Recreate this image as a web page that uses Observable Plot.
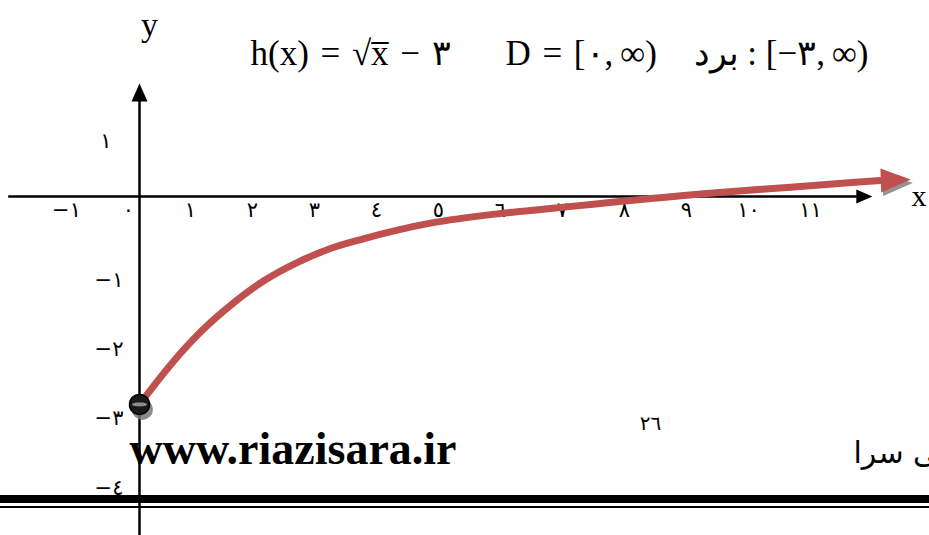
<!DOCTYPE html>
<html><head><meta charset="utf-8">
<script src="https://cdn.jsdelivr.net/npm/d3@7"></script>
<script src="https://cdn.jsdelivr.net/npm/@observablehq/plot@0.6"></script>
<style>
body{margin:0;background:#fff;}
#wrap{position:relative;width:929px;height:535px;overflow:hidden;background:#fff;}
#wrap svg{position:absolute;left:0;top:0;}
.rule{position:absolute;left:0;width:929px;background:#000;}
</style></head><body>
<div id="wrap"></div>
<script>
// ---- data ----
const xTickValues = [-1, 0, 1, 2, 3, 4, 5, 6, 7, 8, 9, 10, 11];
const xTickLabels = ["−١", "٠", "١", "٢", "٣", "٤", "٥", "٦", "٧", "٨", "٩", "١٠", "١١"];
const yPosTickValues = [1];
const yPosTickLabels = ["١"];
const yNegTickValues = [-1, -2, -3, -4];
const yNegTickLabels = ["−١", "−٢", "−٣", "−٤"];
// curve h(x) = √x − 3 as drawn in the picture
const curveX = [0, 0.50, 0.98, 1.47, 2.00, 2.55, 3.08, 3.61, 4.16, 4.69, 5.82, 6.63, 7.44, 9.05, 10.50, 11.95];
const curveY = [-3, -2.43, -1.96, -1.57, -1.22, -0.95, -0.75, -0.61, -0.485, -0.385, -0.245, -0.173, -0.10, 0.036, 0.134, 0.231];
const curveTipX = [12.44];
const curveTipY = [0.245];
const startX = [0];
const startY = [-3];
const xAxisExtent = [-2.11, 11.58, 11.82]; // start, arrow base, arrow tip
const yAxisExtent = [-4.9, 1.385, 1.63];
const titleParts = ["h(x)\u2004=\u2004√x\u0305\u2004−\u2004٣", "D\u2004=\u2004[٠,\u2009∞)", "برد\u200E : [−٣,\u2009∞)"];
const axisNames = ["x", "y"];
const pageNumber = ["٢٦"];
const siteUrl = ["www.riazisara.ir"];
const siteName = ["ریاضی سرا"];

// ---- scales ----
const W = 929, H = 535;
const ox = 139, pxX = 62, oy = 196, pxY = 69.3;
const xDomain = [-ox / pxX, (W - ox) / pxX];
const yDomain = [-(H - oy) / pxY, oy / pxY];

function arrowHead(len, half, angle) {
  const c = Math.cos(angle), s = Math.sin(angle);
  const pt = (u, v) => [u * c - v * s, u * s + v * c];
  return {draw(ctx) {
    const a = pt(0, 0), b = pt(-len, -half), d = pt(-len, half);
    ctx.moveTo(a[0], a[1]); ctx.lineTo(b[0], b[1]); ctx.lineTo(d[0], d[1]); ctx.closePath();
  }};
}
// flat ellipse used as the highlight band of the start ball
const bandSymbol = {draw(ctx) {
  const k = 28;
  for (let i = 0; i <= k; ++i) {
    const t = (i / k) * 2 * Math.PI, px = 7.5 * Math.cos(t), py = 2 * Math.sin(t);
    if (i === 0) ctx.moveTo(px, py); else ctx.lineTo(px, py);
  }
  ctx.closePath();
}};
const n = curveX.length;
const tipAngle = Math.atan2(-(curveTipY[0] - curveY[n - 1]) * pxY, (curveTipX[0] - curveX[n - 1]) * pxX);

const curve = curveX.map((x, i) => ({x, y: curveY[i]}));
const tip = curveTipX.map((x, i) => ({x, y: curveTipY[i]}));
const start = startX.map((x, i) => ({x, y: startY[i]}));
const xt = xTickValues.map((v, i) => ({v, t: xTickLabels[i]}));
const ytp = yPosTickValues.map((v, i) => ({v, t: yPosTickLabels[i]}));
const ytn = yNegTickValues.map((v, i) => ({v, t: yNegTickLabels[i]}));

const serif = "'Liberation Serif', 'DejaVu Serif', serif";
const sans = "'DejaVu Sans', sans-serif";
const red = "#c0504d";

const chart = Plot.plot({
  width: W, height: H, margin: 0,
  x: {domain: xDomain, axis: null},
  y: {domain: yDomain, axis: null},
  style: {background: "transparent", overflow: "visible"},
  marks: [
    // axes
    Plot.ruleY([0], {x1: xAxisExtent[0], x2: xAxisExtent[1], stroke: "#000", strokeWidth: 2.5}),
    Plot.dot([{x: xAxisExtent[2], y: 0}], {x: "x", y: "y", symbol: arrowHead(16, 7, 0), fill: "#000", stroke: "none"}),
    Plot.ruleX([0], {y1: yAxisExtent[0], y2: yAxisExtent[1], stroke: "#000", strokeWidth: 2.5}),
    Plot.dot([{x: 0, y: yAxisExtent[2]}], {x: "x", y: "y", symbol: arrowHead(18, 8, -Math.PI / 2), fill: "#000", stroke: "none"}),
    // tick labels
    Plot.text(xt, {x: "v", y: () => 0, text: "t", dx: -11, dy: 20, lineAnchor: "bottom", fontSize: 21, fontFamily: sans, fill: "#000"}),
    Plot.text(ytp, {x: () => 0, y: "v", text: "t", dx: -28, dy: 21, textAnchor: "end", lineAnchor: "bottom", fontSize: 21, fontFamily: sans, fill: "#000"}),
    Plot.text(ytn, {x: () => 0, y: "v", text: "t", dx: -16, dy: 21, textAnchor: "end", lineAnchor: "bottom", fontSize: 21, fontFamily: sans, fill: "#000"}),
    // curve shadow + curve
    Plot.line(curve, {x: "x", y: "y", curve: "monotone-x", stroke: "#666", strokeOpacity: 0.7, strokeWidth: 7, dx: 2, dy: 3.5, ariaLabel: "shadow"}),
    Plot.dot(tip, {x: "x", y: "y", symbol: arrowHead(30, 12, tipAngle), fill: "#666", fillOpacity: 0.7, stroke: "none", dx: 2, dy: 3.5, ariaLabel: "shadow"}),
    Plot.line(curve, {x: "x", y: "y", curve: "monotone-x", stroke: red, strokeWidth: 7}),
    Plot.dot(tip, {x: "x", y: "y", symbol: arrowHead(30, 12, tipAngle), fill: red, stroke: "none"}),
    // start point
    Plot.dot(start, {x: "x", y: "y", r: 10.5, fill: "#777", fillOpacity: 0.85, stroke: "none", dx: 3, dy: 5, ariaLabel: "shadow"}),
    Plot.dot(start, {x: "x", y: "y", r: 10, fill: "#1a1a1a", stroke: "#000", strokeWidth: 1.5, ariaLabel: "ball"}),
    Plot.dot(start, {x: "x", y: "y", symbol: bandSymbol, fill: "#a8a8a8", fillOpacity: 0.8, stroke: "none", ariaLabel: "band"}),
    // texts
    Plot.text([axisNames[1]], {frameAnchor: "top-left", dx: 149, dy: 35, lineAnchor: "bottom", textAnchor: "middle", fontSize: 34, fontFamily: serif, fill: "#000"}),
    Plot.text([axisNames[0]], {frameAnchor: "top-left", dx: 911, dy: 205, lineAnchor: "bottom", textAnchor: "start", fontSize: 30, fontFamily: serif, fill: "#000"}),
    Plot.text([titleParts[0]], {frameAnchor: "top-left", dx: 250, dy: 64, lineAnchor: "bottom", textAnchor: "start", fontSize: 35, fontFamily: serif, fill: "#000"}),
    Plot.text([titleParts[1]], {frameAnchor: "top-left", dx: 505, dy: 64, lineAnchor: "bottom", textAnchor: "start", fontSize: 35, fontFamily: serif, fill: "#000"}),
    Plot.text([titleParts[2]], {frameAnchor: "top-left", dx: 693, dy: 64, lineAnchor: "bottom", textAnchor: "start", fontSize: 35, fontFamily: serif, fill: "#000"}),
    Plot.text(pageNumber, {frameAnchor: "top-left", dx: 650, dy: 429, lineAnchor: "bottom", textAnchor: "middle", fontSize: 20, fontFamily: sans, fill: "#000"}),
    Plot.text(siteUrl, {frameAnchor: "top-left", dx: 129, dy: 463, lineAnchor: "bottom", textAnchor: "start", fontSize: 46, fontWeight: "bold", fontFamily: serif, fill: "#000"}),
    Plot.text(siteName, {frameAnchor: "top-left", dx: 853, dy: 462, lineAnchor: "bottom", textAnchor: "start", fontSize: 30, fontFamily: sans, fill: "#000"})
  ]
});

chart.querySelectorAll('g[aria-label="shadow"]').forEach(g => { g.style.filter = "blur(1.6px)"; });
chart.querySelectorAll('g[aria-label="band"]').forEach(g => { g.style.filter = "blur(0.8px)"; });

const wrap = document.getElementById("wrap");
wrap.appendChild(chart);
// page rules (double line)
const r1 = document.createElement("div"); r1.className = "rule"; r1.style.top = "495px"; r1.style.height = "8px";
const r2 = document.createElement("div"); r2.className = "rule"; r2.style.top = "506px"; r2.style.height = "2px";
wrap.appendChild(r1); wrap.appendChild(r2);
</script>
</body></html>
